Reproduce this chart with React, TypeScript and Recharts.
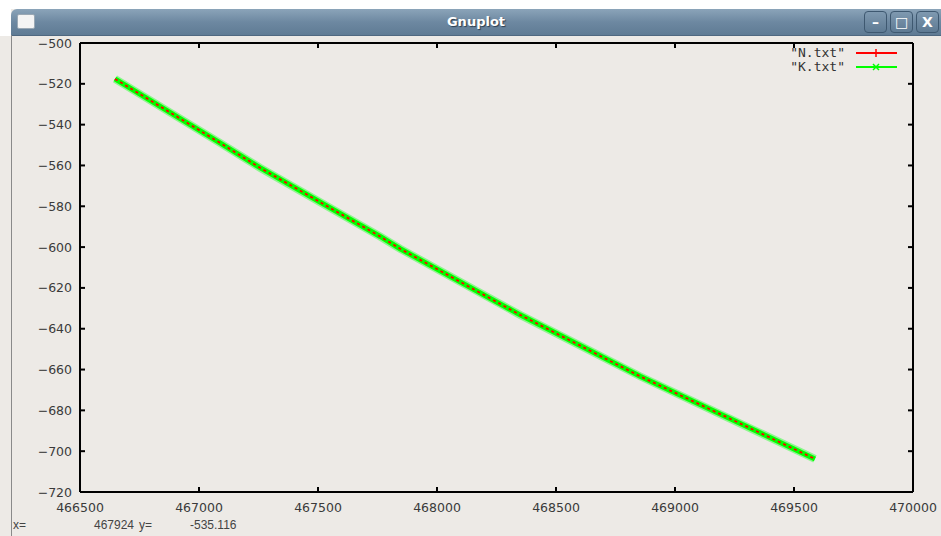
import React from 'react';
import { LineChart, Line, XAxis, YAxis } from 'recharts';

// values
const xTicks = [466500, 467000, 467500, 468000, 468500, 469000, 469500, 470000];
const yTicks = [-720, -700, -680, -660, -640, -620, -600, -580, -560, -540, -520, -500];

const xs = [466647, 467088, 467256, 467761, 467845, 468349, 468853, 469357, 469588];
const nY = [-517.6, -548.9, -561.1, -594.8, -600.8, -633.2, -663.3, -691.0, -703.8];
const kY = [-517.6, -548.9, -561.1, -594.8, -600.8, -633.2, -663.3, -691.0, -703.8];

const seriesNames = ['"N.txt"', '"K.txt"'];
const seriesColors = ['#ff0000', '#00ff00'];

const data = xs.map((x, i) => ({ x, n: nY[i], k: kY[i] }));

const W = 941;
const H = 536;
const BG = '#edeae6';
const tickFont = { fontFamily: 'DejaVu Sans', fontSize: 12.5, fill: '#3a3a3a' };

const BottomTick = ({ x, y, payload }: any) => (
  <g>
    <line x1={x} y1={y} x2={x} y2={y - 5} stroke="#000" strokeWidth={2} />
    <text x={x} y={y + 20} textAnchor="middle" {...tickFont}>{payload.value}</text>
  </g>
);

const TopTick = ({ x, y }: any) => (
  <line x1={x} y1={y} x2={x} y2={y + 5} stroke="#000" strokeWidth={2} />
);

const LeftTick = ({ x, y, payload }: any) => (
  <g>
    <line x1={x} y1={y} x2={x + 5} y2={y} stroke="#000" strokeWidth={2} />
    <text x={x - 8} y={y + 4.5} textAnchor="end" {...tickFont}>{'\u2212' + Math.abs(payload.value)}</text>
  </g>
);

const RightTick = ({ x, y }: any) => (
  <line x1={x} y1={y} x2={x - 5} y2={y} stroke="#000" strokeWidth={2} />
);

const LegendBox = () => (
  <div style={{ position: 'absolute', left: 770, top: 46, width: 140 }}>
    {seriesNames.map((name, i) => (
      <div key={name} style={{ display: 'flex', alignItems: 'center', height: 14 }}>
        <span style={{ width: 75, textAlign: 'right', fontFamily: 'DejaVu Sans Mono', fontSize: 13, lineHeight: '14px', color: '#333' }}>
          {name}
        </span>
        <svg width={52} height={14} style={{ marginLeft: 11 }}>
          <line x1={0} y1={7} x2={41} y2={7} stroke={seriesColors[i]} strokeWidth={2} />
          {i === 0 ? (
            <line x1={20} y1={3} x2={20} y2={11} stroke={seriesColors[i]} strokeWidth={1.5} />
          ) : (
            <g stroke={seriesColors[i]} strokeWidth={1.5}>
              <line x1={17} y1={4} x2={23} y2={10} />
              <line x1={17} y1={10} x2={23} y2={4} />
            </g>
          )}
        </svg>
      </div>
    ))}
  </div>
);

const statusStyle: React.CSSProperties = { position: 'absolute', top: 518, fontFamily: 'Liberation Sans', fontSize: 12, color: '#444' };

export default function App() {
  return (
    <div style={{ position: 'absolute', left: 0, top: 0, width: W, height: H, background: BG, overflow: 'hidden', fontFamily: 'DejaVu Sans' }}>
      {/* window chrome */}
      <div style={{ position: 'absolute', left: 0, top: 0, width: W, height: 9, background: '#fff' }} />
      <div style={{ position: 'absolute', left: 0, top: 0, width: 11, height: 36, background: '#fff' }} />
      <div
        style={{
          position: 'absolute', left: 11, top: 9, width: W - 11, height: 26,
          background: 'linear-gradient(#8ba4b9, #6d88a1 50%, #5f7b94)',
          borderTopLeftRadius: 6, borderBottom: '1px solid #4f6880'
        }}
      >
        <div style={{ position: 'absolute', left: 6, top: 5, width: 16, height: 13, background: '#f4f4f4', border: '1px solid #9aa8b4', borderRadius: 2 }} />
        <div style={{ position: 'absolute', left: 0, right: 0, top: 5, textAlign: 'center', color: '#fff', fontWeight: 'bold', fontSize: 13, textShadow: '1px 1px 1px #2c3e50' }}>
          Gnuplot
        </div>
        {['\u2013', '\u25a1', 'X'].map((s, i) => (
          <div
            key={i}
            style={{
              position: 'absolute', left: 853 + i * 26, top: 2, width: 21, height: 20,
              border: '1px solid #3e5870', borderRadius: 4, background: 'linear-gradient(#7f99b0, #5e7a93)',
              color: '#fff', fontWeight: 'bold', fontSize: 14, textAlign: 'center', lineHeight: '20px'
            }}
          >
            {s}
          </div>
        ))}
      </div>
      <div style={{ position: 'absolute', left: 11, top: 35, width: 1, height: H - 35, background: '#8a8a8a' }} />

      <div style={{ position: 'absolute', left: 0, top: 0 }}>
        <LineChart width={W} height={H} data={data} margin={{ top: 38, right: 23, bottom: 14, left: 20 }}>
          <XAxis xAxisId="b" dataKey="x" type="number" domain={[466500, 470000]} ticks={xTicks} allowDataOverflow
            height={30} tickSize={0} tickMargin={0} tickLine={false} axisLine={{ stroke: '#000', strokeWidth: 2 }} tick={<BottomTick />} interval={0} />
          <XAxis xAxisId="t" orientation="top" dataKey="x" type="number" domain={[466500, 470000]} ticks={xTicks} allowDataOverflow
            height={5} tickSize={0} tickMargin={0} tickLine={false} axisLine={{ stroke: '#000', strokeWidth: 2 }} tick={<TopTick />} interval={0} />
          <YAxis yAxisId="l" type="number" domain={[-720, -500]} ticks={yTicks} allowDataOverflow
            width={60} tickSize={0} tickMargin={0} tickLine={false} axisLine={{ stroke: '#000', strokeWidth: 2 }} tick={<LeftTick />} interval={0} />
          <YAxis yAxisId="r" orientation="right" type="number" domain={[-720, -500]} ticks={yTicks} allowDataOverflow
            width={5} tickSize={0} tickMargin={0} tickLine={false} axisLine={{ stroke: '#000', strokeWidth: 2 }} tick={<RightTick />} interval={0} />
          <Line xAxisId="t" yAxisId="r" dataKey="k" name={seriesNames[1]} stroke="#8ff58f" strokeWidth={8} dot={false} isAnimationActive={false} />
          <Line xAxisId="t" yAxisId="r" dataKey="k" name={seriesNames[1]} stroke={seriesColors[1]} strokeWidth={5} dot={false} isAnimationActive={false} />
          <Line xAxisId="b" yAxisId="l" dataKey="n" name={seriesNames[0]} stroke={seriesColors[0]} strokeWidth={1.8} strokeDasharray="3 3" dot={false} isAnimationActive={false} />
        </LineChart>
      </div>

      <LegendBox />

      {/* status line */}
      <div style={{ ...statusStyle, left: 13 }}>x=</div>
      <div style={{ ...statusStyle, left: 94 }}>467924</div>
      <div style={{ ...statusStyle, left: 139 }}>y=</div>
      <div style={{ ...statusStyle, left: 190 }}>-535.116</div>
    </div>
  );
}
